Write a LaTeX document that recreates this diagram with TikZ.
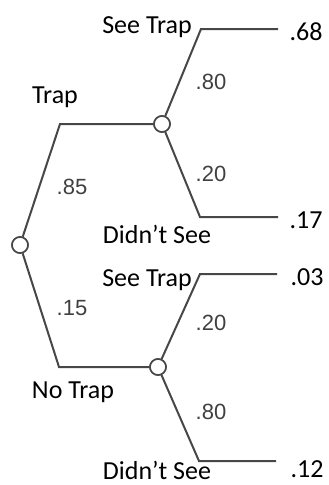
\documentclass[tikz,border=0pt]{standalone}
\usepackage{fontspec}
\setmainfont{Carlito}
\newfontfamily\arialf{Liberation Sans}
\begin{document}
\begin{tikzpicture}[x=1pt,y=-1pt,
  branch/.style={draw=black!72, line width=2pt},
  chance/.style={circle, draw=black!72, fill=white, line width=1.6pt, minimum size=16pt, inner sep=0pt},
  lab/.style={font=\fontsize{26}{26}\selectfont, text=black, inner sep=0pt},
  prob/.style={font=\arialf\fontsize{22}{22}\selectfont, text=black!75, inner sep=0pt},
  outc/.style={font=\fontsize{26}{26}\selectfont, text=black, inner sep=0pt}]
\useasboundingbox (0,0) rectangle (329,485);
% chance nodes
\node[chance] (r) at (20,245) {};
\node[chance] (a) at (162,124) {};
\node[chance] (b) at (158,367) {};
% corners and ends
\coordinate (r1) at (60,124);
\coordinate (r2) at (59,367);
\coordinate (a1) at (201,29);
\coordinate (a1e) at (278,29);
\coordinate (a2) at (200,217);
\coordinate (a2e) at (278,217);
\coordinate (b1) at (200,274);
\coordinate (b1e) at (277,274);
\coordinate (b2) at (199,461);
\coordinate (b2e) at (276,461);
% branches
\draw[branch] (r) -- (r1) -- (a);
\draw[branch] (r) -- (r2) -- (b);
\draw[branch] (a) -- (a1) -- (a1e);
\draw[branch] (a) -- (a2) -- (a2e);
\draw[branch] (b) -- (b1) -- (b1e);
\draw[branch] (b) -- (b2) -- (b2e);
% redraw circles on top
\node[chance] at (r) {};
\node[chance] at (a) {};
\node[chance] at (b) {};
% labels
\node[lab] (lst1) at (147,27) {See Trap};
\node[lab] (ltrap) at (55,97) {Trap};
\node[lab] (lds1) at (157,234) {Didn’t See};
\node[lab] (lst2) at (147,280) {See Trap};
\node[lab] (lnotrap) at (73,392) {No Trap};
\node[lab] (lds2) at (157,470) {Didn’t See};
% probabilities
\node[prob] (p85) at (72,187) {.85};
\node[prob] (p15) at (72,308) {.15};
\node[prob] (pa1) at (211,82) {.80};
\node[prob] (pa2) at (211,174) {.20};
\node[prob] (pb1) at (211,323) {.20};
\node[prob] (pb2) at (211,412) {.80};
% outcomes
\node[outc] (o1) at (306,32) {.68};
\node[outc] (o2) at (306,220) {.17};
\node[outc] (o3) at (307,277) {.03};
\node[outc] (o4) at (307,469) {.12};
\end{tikzpicture}
\end{document}
